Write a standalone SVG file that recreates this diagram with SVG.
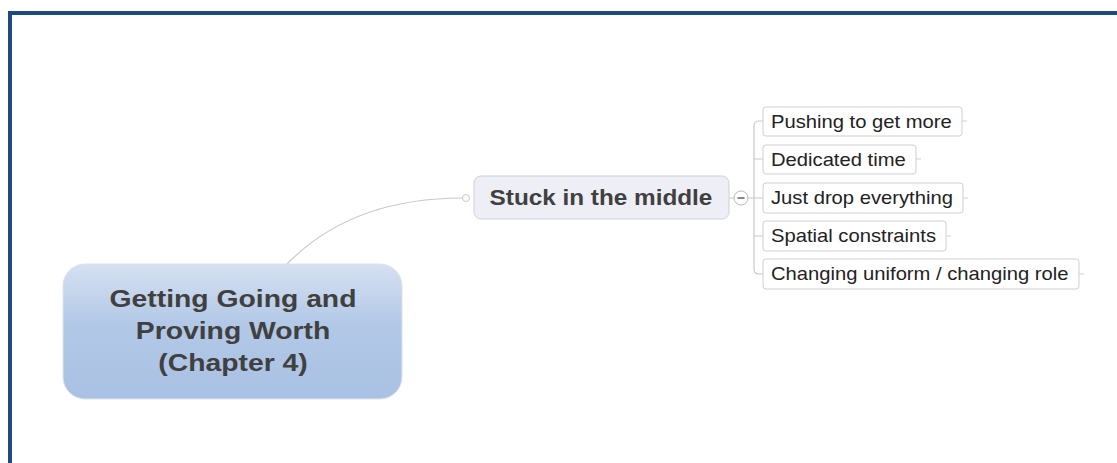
<svg xmlns="http://www.w3.org/2000/svg" width="1117" height="463" viewBox="0 0 1117 463">
<defs>
<linearGradient id="g" x1="0" y1="0" x2="0" y2="1">
<stop offset="0" stop-color="#d6e1f1"/>
<stop offset="0.45" stop-color="#b2c8e7"/>
<stop offset="1" stop-color="#a9c1e3"/>
</linearGradient>
</defs>
<style>
.c{fill:none;stroke:#c8c8c8;stroke-width:1.2}
.leaf rect{fill:#fff;stroke:#cfcfcf;stroke-width:1}
.leaf text{font-family:"Liberation Sans",Arial,sans-serif;font-size:17.5px;fill:#222}
.tick{stroke:#cfcfcf;stroke-width:1}
</style>
<rect width="1117" height="463" fill="#fff"/>
<path d="M10 463V13H1117" fill="none" stroke="#1f4a7d" stroke-width="4"/>
<g id="connectors">
<path class="c" d="M287 264C330 220 390 198 463 198"/>
<path class="c" d="M729 198H734M748 198H754"/>
<path class="c" d="M763 121H759Q754 121 754 126V269Q754 274 759 274H763"/>
<path class="c" d="M754 159H763M754 198H763M754 236H763"/>
</g>
<g id="root">
<rect x="63" y="264" width="339" height="135" rx="22" fill="url(#g)" stroke="#dde3ea" stroke-width="1"/>
<text transform="matrix(1.18,0,0,1,-41.9,0)" font-family="Liberation Sans,Arial,sans-serif" font-weight="bold" font-size="24" fill="#404040" text-anchor="middle"><tspan x="233" y="307">Getting Going and</tspan><tspan x="233" y="339">Proving Worth</tspan><tspan x="233" y="371">(Chapter 4)</tspan></text>
</g>
<g id="stuck">
<circle cx="466" cy="198" r="3.5" fill="#fff" stroke="#c8c8c8"/>
<rect x="474" y="176" width="255" height="43" rx="7" fill="#eeeef6" stroke="#cfcfd6"/>
<text transform="matrix(1.105,0,0,1,-63.1,0)" x="601" y="205" text-anchor="middle" font-family="Liberation Sans,Arial,sans-serif" font-weight="bold" font-size="22" fill="#404040">Stuck in the middle</text>
<circle cx="741" cy="198" r="7" fill="#fff" stroke="#b8b8b8"/>
<line x1="737.5" y1="198" x2="744.5" y2="198" stroke="#555" stroke-width="1.4"/>
</g>
<g id="n1" class="leaf"><rect x="763" y="107" width="199" height="29" rx="3"/><text transform="matrix(1.155,0,0,1,-119.5,0)" x="771" y="128">Pushing to get more</text><line class="tick" x1="962" y1="121" x2="967" y2="121"/></g>
<g id="n2" class="leaf"><rect x="763" y="145" width="153" height="29" rx="3"/><text transform="matrix(1.155,0,0,1,-119.5,0)" x="771" y="166">Dedicated time</text><line class="tick" x1="916" y1="159" x2="921" y2="159"/></g>
<g id="n3" class="leaf"><rect x="763" y="183" width="200" height="30" rx="3"/><text transform="matrix(1.155,0,0,1,-119.5,0)" x="771" y="204">Just drop everything</text><line class="tick" x1="963" y1="198" x2="968" y2="198"/></g>
<g id="n4" class="leaf"><rect x="763" y="221" width="183" height="30" rx="3"/><text transform="matrix(1.155,0,0,1,-119.5,0)" x="771" y="242">Spatial constraints</text><line class="tick" x1="946" y1="236" x2="951" y2="236"/></g>
<g id="n5" class="leaf"><rect x="763" y="259" width="316" height="30" rx="3"/><text transform="matrix(1.155,0,0,1,-119.5,0)" x="771" y="280">Changing uniform / changing role</text><line class="tick" x1="1079" y1="274" x2="1084" y2="274"/></g>
</svg>
